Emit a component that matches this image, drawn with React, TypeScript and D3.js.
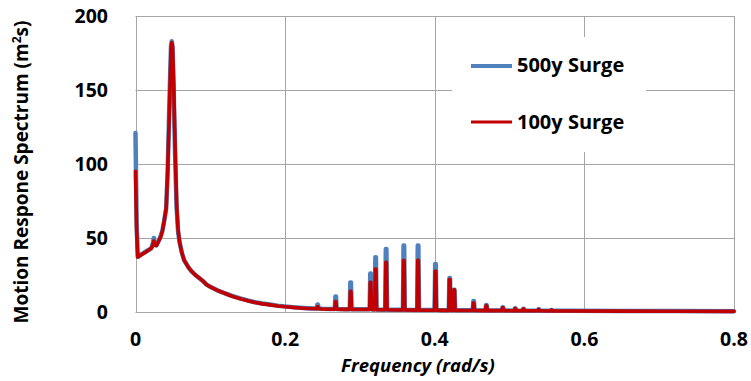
import React from "react";
import * as d3 from "d3";

// ---------- DATA ----------
const xTicks = [0, 0.2, 0.4, 0.6, 0.8];
const yTicks = [0, 50, 100, 150, 200];
const seriesNames = ["500y Surge", "100y Surge"];

// smooth part of the spectra (frequency in rad/s)
const baseFreq = [
  0, 0.0015, 0.003, 0.006, 0.01, 0.014, 0.018, 0.021, 0.023, 0.0245, 0.026, 0.028,
  0.031, 0.034, 0.036, 0.0385, 0.041, 0.043, 0.0455, 0.0475, 0.0485, 0.0495, 0.051,
  0.053, 0.055, 0.057, 0.059, 0.062, 0.065, 0.068, 0.071, 0.075, 0.08, 0.085, 0.09,
  0.095, 0.1, 0.11, 0.12, 0.13, 0.14, 0.15, 0.16, 0.17, 0.18, 0.19, 0.2, 0.21, 0.22,
  0.23, 0.24, 0.25, 0.26, 0.28, 0.3, 0.33, 0.36, 0.39, 0.41, 0.44, 0.48, 0.53, 0.58,
  0.65, 0.72, 0.8,
];
const baseBlue = [
  121, 60, 37.5, 38.5, 39.5, 41, 42, 43, 46, 50, 46, 45,
  48, 52, 55, 62, 70, 95, 145, 180, 183, 178, 150,
  105, 70, 54, 47, 40, 35, 32.5, 30, 27.5, 25, 23, 21,
  18.5, 17, 14.5, 12.5, 10.8, 9.2, 7.8, 6.6, 5.7, 5, 4.3, 3.8, 3.3, 2.9,
  2.6, 2.4, 2.2, 2.1, 1.9, 1.8, 1.6, 1.5, 1.3, 1.2, 1.1, 1.0, 0.9, 0.8,
  0.7, 0.6, 0.5,
];
const baseRed = [
  95, 55, 37, 38, 39.5, 40.5, 42, 43, 45, 48, 45, 45,
  48, 51, 55, 62, 70, 95, 140, 178, 182, 180, 155,
  110, 72, 55, 47, 40, 35, 32.5, 30, 27.5, 25, 23, 21,
  18.5, 17, 14.5, 12.5, 10.5, 9, 7.6, 6.4, 5.5, 4.8, 4.1, 3.6, 3.1, 2.7,
  2.4, 2.2, 2.0, 1.9, 1.8, 1.7, 1.5, 1.4, 1.2, 1.1, 1.0, 0.9, 0.8, 0.7,
  0.6, 0.5, 0.45,
];

// narrow wave-frequency peaks
const spikeFreq = [
  0.2435, 0.2676, 0.2876, 0.3142, 0.321, 0.335, 0.3587, 0.3777, 0.401, 0.42, 0.426,
  0.452, 0.469, 0.491, 0.5076, 0.5187, 0.539, 0.556,
];
const spikeBlue = [5, 10.5, 20, 26, 37, 42.5, 45, 45, 32.5, 23, 15, 7.4, 4.7, 3.2, 2.5, 2.2, 1.8, 1.4];
const spikeRed = [3.5, 7, 14, 20, 29, 33.5, 34.7, 35, 27.5, 22, 15, 6, 4.2, 2.8, 2.2, 2, 1.6, 1.3];
const spikeFloorBlue = [2.4, 2.1, 1.9, 1.8, 1.7, 1.6, 1.5, 1.4, 1.3, 1.2, 1.2, 1.1, 1.0, 1.0, 0.9, 0.9, 0.9, 0.8];
const spikeFloorRed = [2.2, 1.9, 1.8, 1.7, 1.6, 1.5, 1.4, 1.3, 1.2, 1.1, 1.1, 1.0, 0.9, 0.9, 0.8, 0.8, 0.8, 0.7];

const colors = ["#4f81bd", "#c00000"];

// ---------- BUILD ----------
type P = [number, number];
function buildSeries(base: number[], tops: number[], floors: number[]): P[] {
  const pts: P[] = baseFreq.map((f, i) => [f, base[i]] as P);
  const hw = 0.0012;
  spikeFreq.forEach((f, i) => {
    pts.push([f - hw, floors[i]]);
    pts.push([f - hw / 3, tops[i]]);
    pts.push([f + hw / 3, tops[i]]);
    pts.push([f + hw, floors[i]]);
  });
  pts.sort((a, b) => a[0] - b[0]);
  return pts;
}

const W = 751;
const H = 381;
const plot = { left: 135.5, right: 734, top: 16, bottom: 312 };

export default function App() {
  const x = d3.scaleLinear().domain([0, 0.8]).range([plot.left, plot.right]);
  const y = d3.scaleLinear().domain([0, 200]).range([plot.bottom, plot.top]);
  const line = d3
    .line<P>()
    .x((d) => x(d[0]))
    .y((d) => y(d[1]));

  const blue = buildSeries(baseBlue, spikeBlue, spikeFloorBlue);
  const red = buildSeries(baseRed, spikeRed, spikeFloorRed);

  const font = "'Open Sans', 'DejaVu Sans', sans-serif";
  const grid = "#a6a6a6";

  return (
    <svg
      width={W}
      height={H}
      style={{ position: "absolute", left: 0, top: 0, background: "#fff" }}
      fontFamily={font}
    >
      <rect x={0} y={0} width={W} height={H} fill="#fff" />
      {/* gridlines */}
      {yTicks.map((t) => (
        <line key={"gy" + t} x1={plot.left} x2={plot.right} y1={Math.round(y(t)) + 0.5} y2={Math.round(y(t)) + 0.5} stroke={grid} strokeWidth={1} />
      ))}
      {xTicks.map((t) => (
        <line key={"gx" + t} x1={Math.round(x(t)) + 0.5} x2={Math.round(x(t)) + 0.5} y1={plot.top} y2={plot.bottom} stroke={grid} strokeWidth={1} />
      ))}
      {/* legend background */}
      <rect x={452} y={37} width={194} height={115} fill="#fff" />

      {/* series */}
      <path d={line(blue) || ""} fill="none" stroke={colors[0]} strokeWidth={4.5} strokeLinejoin="round" strokeLinecap="round" />
      <path d={line(red) || ""} fill="none" stroke={colors[1]} strokeWidth={3.6} strokeLinejoin="round" strokeLinecap="round" />

      {/* y tick labels */}
      {yTicks.map((t) => (
        <text key={"ty" + t} x={108} y={y(t)} dy="0.36em" textAnchor="end" fontSize={19.5} fontWeight={700} fill="#000">
          {t}
        </text>
      ))}
      {/* x tick labels */}
      {xTicks.map((t) => (
        <text key={"tx" + t} x={x(t)} y={346} textAnchor="middle" fontSize={19.5} fontWeight={700} fill="#000">
          {t === 0 ? "0" : String(t)}
        </text>
      ))}
      {/* axis titles */}
      <text x={418} y={372} textAnchor="middle" fontSize={18.5} fontWeight={700} fontStyle="italic" fill="#000">
        Frequency (rad/s)
      </text>
      <text transform="translate(28,172) rotate(-90)" textAnchor="middle" fontSize={19} fontWeight={700} fill="#000">
        Motion Respone Spectrum (m<tspan fontSize={12} dy={-7}>2</tspan><tspan dy={7}>s)</tspan>
      </text>

      {/* legend */}
      {seriesNames.map((n, i) => (
        <g key={n}>
          <line x1={471} x2={512} y1={66 + i * 56} y2={66 + i * 56} stroke={colors[i]} strokeWidth={i === 0 ? 4 : 3} />
          <text x={517} y={72 + i * 57} fontSize={20} fontWeight={700} fill="#000">
            {n}
          </text>
        </g>
      ))}
    </svg>
  );
}
